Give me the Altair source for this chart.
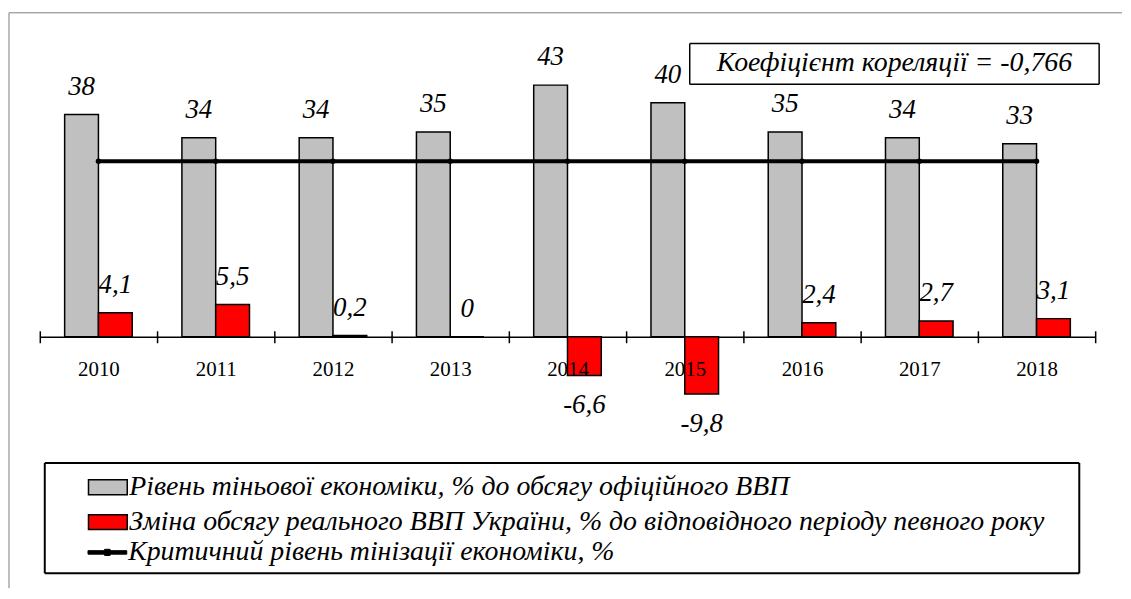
import altair as alt
import pandas as pd

# ---- data ----
years = ["2010", "2011", "2012", "2013", "2014", "2015", "2016", "2017", "2018"]
shadow_level = [38, 34, 34, 35, 43, 40, 35, 34, 33]
gdp_change = [4.1, 5.5, 0.2, 0, -6.6, -9.8, 2.4, 2.7, 3.1]
critical_level = [30, 30, 30, 30, 30, 30, 30, 30, 30]

series_names = [
    "Рівень тіньової економіки, % до обсягу офіційного ВВП",
    "Зміна обсягу реального ВВП України, % до відповідного періоду певного року",
    "Критичний рівень тінізації економіки, %",
]
corr_text = ["Коефіцієнт кореляції = -0,766"]

# ---- tables ----
gray_df = pd.DataFrame({"year": years, "value": shadow_level, "series": [series_names[0]] * len(years)})
red_df = pd.DataFrame({"year": years, "value": gdp_change, "series": [series_names[1]] * len(years)})
crit = pd.DataFrame({"year": years, "value": critical_level, "series": [series_names[2]] * len(years)})
note_df = pd.DataFrame({"t": corr_text})

FONT = "Liberation Serif"
W, H = 1062, 265
BW = 34

x_enc = alt.X(
    "year:N",
    scale=alt.Scale(paddingInner=0, paddingOuter=0),
    axis=alt.Axis(
        title=None, domain=False, tickBand="extent", tickSize=12, offset=-6,
        tickColor="black", tickWidth=1.5, labelFont=FONT, labelFontSize=21,
        labelColor="black", labelPadding=16, labelAngle=0, grid=False, zindex=1,
    ),
)
y_enc = alt.Y(
    "value:Q",
    scale=alt.Scale(domain=[0, 45], nice=False, zero=True),
    axis=alt.Axis(
        title=None, values=[0], grid=True, gridColor="black", gridWidth=1.5,
        labels=False, ticks=False, domain=False,
    ),
)

rect_path = "M-1,-0.385H1V0.385H-1Z"
line_path = "M-1,-0.09H1V0.09H-1Z M-0.14,-0.16H0.14V0.16H-0.14Z"

fill_enc = alt.Fill(
    "series:N",
    scale=alt.Scale(domain=series_names[:2], range=["#c0c0c0", "#ff0000"]),
    legend=alt.Legend(
        title=None, orient="none", legendX=48, legendY=396, padding=0,
        symbolType=rect_path, symbolSize=1521, symbolStrokeColor="black",
        symbolStrokeWidth=1.5, symbolOpacity=1, labelFont=FONT,
        labelFontStyle="italic", labelFontSize=28, labelColor="black",
        labelOffset=1, labelLimit=1500, rowPadding=-7.5,
    ),
)

gray_bars = alt.Chart(gray_df).mark_bar(
    stroke="black", strokeWidth=1.5, width=BW, xOffset=-BW / 2
).encode(x=x_enc, y=y_enc, fill=fill_enc)
red_bars = alt.Chart(red_df).mark_bar(
    stroke="black", strokeWidth=1.5, width=BW, xOffset=BW / 2
).encode(x=x_enc, y=y_enc, fill=fill_enc)

def labels(df, off, cond, dy):
    return (
        alt.Chart(df)
        .transform_calculate(label="replace(toString(datum.value), '.', ',')")
        .transform_filter(cond)
        .mark_text(font=FONT, fontStyle="italic", fontSize=27, color="black",
                   baseline="alphabetic", dy=dy, xOffset=off)
        .encode(x=x_enc, y=y_enc, text="label:N")
    )

gray_labels = labels(gray_df, -BW / 2, "datum.value >= 0", -20)
red_pos_labels = labels(red_df, BW / 2, "datum.value >= 0", -20)
red_neg_labels = labels(red_df, BW / 2, "datum.value < 0", 38)

crit_line = alt.Chart(crit).mark_line(strokeWidth=4).encode(
    x=x_enc,
    y=y_enc,
    stroke=alt.Stroke(
        "series:N",
        scale=alt.Scale(domain=[series_names[2]], range=["black"]),
        legend=alt.Legend(
            title=None, orient="none", legendX=48, legendY=462, padding=0,
            symbolType=line_path, symbolSize=1521, symbolStrokeColor="black",
            symbolFillColor="black", symbolStrokeWidth=1, symbolOpacity=1,
            labelFont=FONT, labelFontStyle="italic", labelFontSize=28,
            labelColor="black", labelOffset=1, labelLimit=1500,
        ),
    ),
)
crit_pts = alt.Chart(crit).mark_point(filled=True, size=30, color="black", opacity=1).encode(
    x=x_enc, y=y_enc
)

# ---- decorations (frame, correlation box, legend box) drawn as pixel rules ----
def hrule(x1, x2, y, color="black", w=1.5):
    return alt.Chart(note_df).mark_rule(color=color, strokeWidth=w).encode(
        x=alt.value(x1), x2=alt.value(x2), y=alt.value(y)
    )

def vrule(x, y1, y2, color="black", w=1.5):
    return alt.Chart(note_df).mark_rule(color=color, strokeWidth=w).encode(
        x=alt.value(x), y=alt.value(y1), y2=alt.value(y2)
    )

frame = [hrule(-31, 1089, -61, "#7f7f7f", 1), vrule(-31, -61, 518, "#7f7f7f", 1)]
corr_box = [hrule(654, 1066, -30), hrule(654, 1066, 11), vrule(654, -30, 11), vrule(1066, -30, 11)]
legend_box = [hrule(5, 1046, 392, w=2), hrule(5, 1046, 503, w=2), vrule(5, 392, 503, w=2), vrule(1046, 392, 503, w=2)]

corr_label = alt.Chart(note_df).mark_text(
    font=FONT, fontStyle="italic", fontSize=28, color="black", align="center", baseline="middle"
).encode(x=alt.value(860), y=alt.value(-10), text="t:N")

chart = (
    alt.layer(
        gray_bars, red_bars, crit_line, crit_pts,
        gray_labels, red_pos_labels, red_neg_labels,
        *frame, *corr_box, *legend_box, corr_label,
    )
    .properties(width=W, height=H, padding={"left": 0, "top": 2, "right": 0, "bottom": 0},
                background="white")
    .configure_view(stroke=None)
)

chart.save("out.html", embed_options={"renderer": "svg", "actions": False})
